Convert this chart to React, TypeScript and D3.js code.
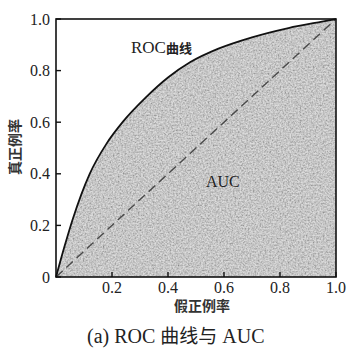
import React from "react";
import * as d3 from "d3";

const fpr = [0, 0.03, 0.06, 0.12, 0.18, 0.24, 0.32, 0.4, 0.48, 0.58, 0.7, 0.83, 0.95, 1.0];
const tpr = [0, 0.117, 0.225, 0.399, 0.516, 0.603, 0.695, 0.773, 0.833, 0.885, 0.929, 0.965, 0.99, 1.0];
const xTicks = [0.2, 0.4, 0.6, 0.8, 1.0];
const yTicks = [0, 0.2, 0.4, 0.6, 0.8, 1.0];
const xTickLabels = ["0.2", "0.4", "0.6", "0.8", "1.0"];
const yTickLabels = ["0", "0.2", "0.4", "0.6", "0.8", "1.0"];
const xAxisTitle = "假正例率";
const yAxisTitle = "真正例率";
const curveLabel = ["ROC", "曲线"];
const areaLabel = "AUC";
const caption = ["(a) ROC ", "曲线与", " AUC"];

const W = 355;
const H = 351;
const L = 56, R = 336, T = 19, B = 277;
const serif = "'Liberation Serif', 'DejaVu Serif', serif";
const cjk = "'Noto Sans CJK SC', sans-serif";

export default function App() {
  const x = d3.scaleLinear().domain([0, 1]).range([L, R]);
  const y = d3.scaleLinear().domain([0, 1]).range([B, T]);
  const pts: [number, number][] = fpr.map((f, i) => [f, tpr[i]]);
  const line = d3
    .line<[number, number]>()
    .x((d) => x(d[0]))
    .y((d) => y(d[1]))
    .curve(d3.curveMonotoneX);
  const area = d3
    .area<[number, number]>()
    .x((d) => x(d[0]))
    .y0(y(0))
    .y1((d) => y(d[1]))
    .curve(d3.curveMonotoneX);

  return (
    <svg
      width={W}
      height={H}
      style={{ position: "fixed", left: 0, top: 0, background: "#fff" }}
    >
      <defs>
        <filter id="grain" x="0" y="0" width="100%" height="100%">
          <feTurbulence type="fractalNoise" baseFrequency="0.6" numOctaves="3" seed="5" result="n" />
          <feColorMatrix
            in="n"
            type="matrix"
            values="1.3 0 0 0 0.02  1.3 0 0 0 0.02  1.3 0 0 0 0.02  0 0 0 0 1"
            result="gray"
          />
          <feComposite in="gray" in2="SourceGraphic" operator="in" />
        </filter>
      </defs>
      <path d={area(pts) || ""} fill="#b4b4b4" />
      <path d={area(pts) || ""} fill="#b4b4b4" filter="url(#grain)" opacity={0.55} />
      <line
        x1={x(0)}
        y1={y(0)}
        x2={x(1)}
        y2={y(1)}
        stroke="#4a4a4a"
        strokeWidth={1.4}
        strokeDasharray="9 5"
      />
      <path d={line(pts) || ""} fill="none" stroke="#111" strokeWidth={1.8} />
      <rect x={L} y={T} width={R - L} height={B - T} fill="none" stroke="#111" strokeWidth={1.6} />
      {yTicks.map((t, i) => (
        <g key={"y" + i}>
          <line x1={L} x2={L + 5} y1={y(t)} y2={y(t)} stroke="#111" strokeWidth={1.4} />
          <text
            x={L - 6}
            y={y(t) + 5.5}
            textAnchor="end"
            fontFamily={serif}
            fontSize={16}
            fill="#222"
          >
            {yTickLabels[i]}
          </text>
        </g>
      ))}
      {xTicks.map((t, i) => (
        <g key={"x" + i}>
          <line x1={x(t)} x2={x(t)} y1={B} y2={B - 5} stroke="#111" strokeWidth={1.4} />
          <text
            x={x(t)}
            y={B + 16}
            textAnchor="middle"
            fontFamily={serif}
            fontSize={16}
            fill="#222"
          >
            {xTickLabels[i]}
          </text>
        </g>
      ))}
      <text x={202} y={311} textAnchor="middle" fontFamily={cjk} fontSize={14} fontWeight={700} fill="#333">
        {xAxisTitle}
      </text>
      <text
        transform={`translate(20, 147) rotate(-90)`}
        textAnchor="middle"
        fontFamily={cjk}
        fontSize={14}
        fontWeight={700}
        fill="#333"
      >
        {yAxisTitle}
      </text>
      <text x={131} y={53} fontFamily={serif} fontSize={17} fill="#222">
        {curveLabel[0]}
        <tspan fontFamily={cjk} fontSize={13} fontWeight={700}>
          {curveLabel[1]}
        </tspan>
      </text>
      <text x={206} y={187} fontFamily={serif} fontSize={16} fill="#222">
        {areaLabel}
      </text>
      <text x={87} y={343} fontFamily={serif} fontSize={20} fill="#222">
        {caption[0]}
        <tspan fontFamily={cjk} fontSize={19}>
          {caption[1]}
        </tspan>
        {caption[2]}
      </text>
    </svg>
  );
}
